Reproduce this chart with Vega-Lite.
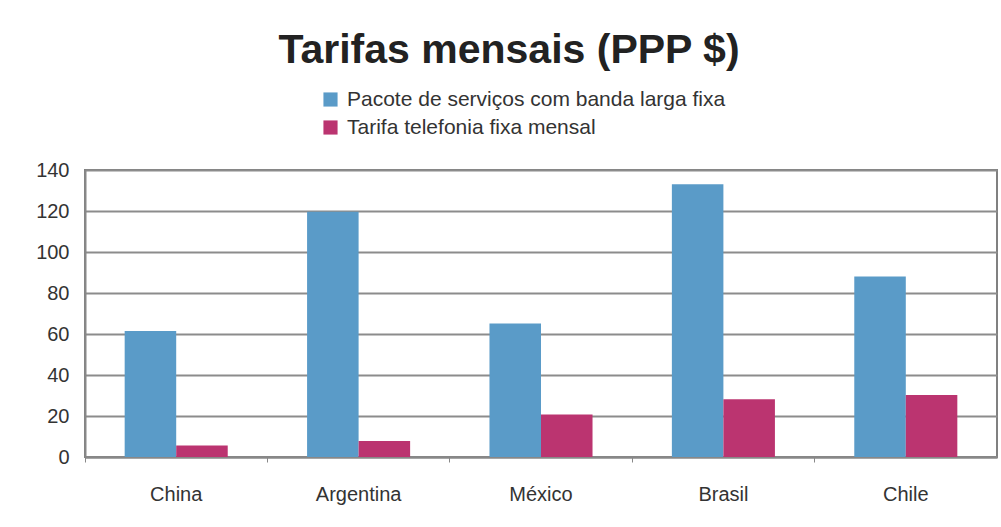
{
  "$schema": "https://vega.github.io/schema/vega-lite/v6.json",
  "width": 912,
  "height": 287,
  "autosize": {"type": "none"},
  "padding": {"left": 85, "top": 170, "right": 4, "bottom": 70},
  "background": "white",
  "title": {
    "text": "Tarifas mensais (PPP $)",
    "font": "Liberation Sans",
    "fontSize": 41,
    "fontWeight": "bold",
    "color": "#222222",
    "anchor": "middle",
    "frame": "group",
    "dx": -32,
    "offset": 17
  },
  "data": {
    "values": [
      {"pais": "China", "serie": "Pacote de serviços com banda larga fixa", "valor": 61.5},
      {"pais": "China", "serie": "Tarifa telefonia fixa mensal", "valor": 5.6},
      {"pais": "Argentina", "serie": "Pacote de serviços com banda larga fixa", "valor": 119.6},
      {"pais": "Argentina", "serie": "Tarifa telefonia fixa mensal", "valor": 7.8},
      {"pais": "México", "serie": "Pacote de serviços com banda larga fixa", "valor": 65.1},
      {"pais": "México", "serie": "Tarifa telefonia fixa mensal", "valor": 20.7},
      {"pais": "Brasil", "serie": "Pacote de serviços com banda larga fixa", "valor": 133.0},
      {"pais": "Brasil", "serie": "Tarifa telefonia fixa mensal", "valor": 28.2},
      {"pais": "Chile", "serie": "Pacote de serviços com banda larga fixa", "valor": 88.1},
      {"pais": "Chile", "serie": "Tarifa telefonia fixa mensal", "valor": 30.3}
    ]
  },
  "mark": {"type": "bar"},
  "encoding": {
    "x": {
      "field": "pais",
      "type": "nominal",
      "sort": ["China", "Argentina", "México", "Brasil", "Chile"],
      "scale": {"paddingInner": 0, "paddingOuter": 0},
      "axis": {
        "title": null,
        "labelAngle": 0,
        "labelFont": "Liberation Sans",
        "labelFontSize": 20,
        "labelColor": "#333333",
        "labelPadding": 22,
        "bandPosition": 0,
        "ticks": true,
        "tickSize": 5,
        "tickColor": "#888888",
        "domainColor": "#888888",
        "domainWidth": 2,
        "grid": false
      }
    },
    "xOffset": {
      "field": "serie",
      "type": "nominal",
      "sort": ["Pacote de serviços com banda larga fixa", "Tarifa telefonia fixa mensal"],
      "scale": {"paddingInner": 0, "paddingOuter": 0.77}
    },
    "y": {
      "field": "valor",
      "type": "quantitative",
      "scale": {"domain": [0, 140], "nice": false},
      "axis": {
        "title": null,
        "values": [0, 20, 40, 60, 80, 100, 120, 140],
        "labelFont": "Liberation Sans",
        "labelFontSize": 20,
        "labelColor": "#333333",
        "labelPadding": 16,
        "ticks": false,
        "tickSize": 0,
        "domainColor": "#888888",
        "domainWidth": 2,
        "gridColor": "#8c8c8c",
        "gridWidth": 2
      }
    },
    "color": {
      "field": "serie",
      "type": "nominal",
      "sort": ["Pacote de serviços com banda larga fixa", "Tarifa telefonia fixa mensal"],
      "scale": {
        "domain": ["Pacote de serviços com banda larga fixa", "Tarifa telefonia fixa mensal"],
        "range": ["#5a9bc8", "#bb3470"]
      },
      "legend": {
        "title": null,
        "orient": "none",
        "legendX": 235,
        "legendY": -81,
        "direction": "vertical",
        "symbolType": "square",
        "symbolSize": 200,
        "symbolStrokeWidth": 0,
        "labelFont": "Liberation Sans",
        "labelFontSize": 21,
        "labelColor": "#333333",
        "labelOffset": 6,
        "rowPadding": 6,
        "labelLimit": 600
      }
    }
  },
  "config": {
    "view": {"stroke": "#808080", "strokeWidth": 2}
  }
}
